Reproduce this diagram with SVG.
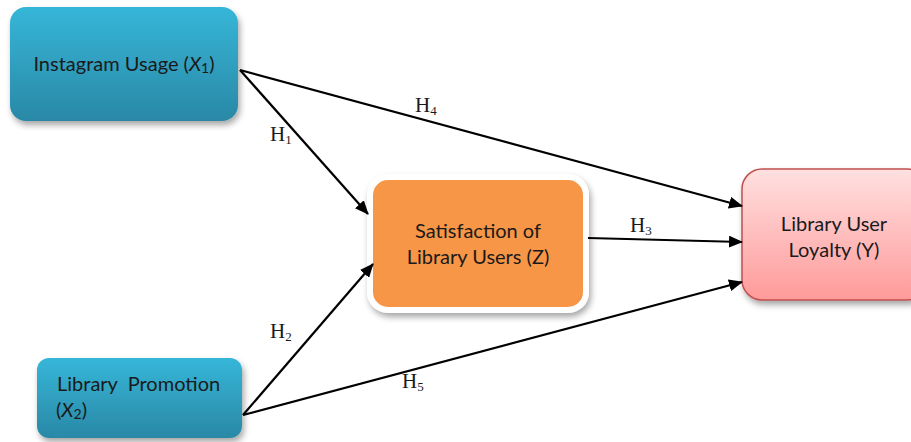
<svg xmlns="http://www.w3.org/2000/svg" width="911" height="442" viewBox="0 0 911 442">
<defs>
<linearGradient id="gBlue" x1="0" y1="0" x2="0" y2="1">
<stop offset="0" stop-color="#36b6d8"/>
<stop offset="1" stop-color="#2a88a6"/>
</linearGradient>
<linearGradient id="gPink" x1="0" y1="0" x2="0" y2="1">
<stop offset="0" stop-color="#ffe0e0"/>
<stop offset="1" stop-color="#ff9a9a"/>
</linearGradient>
<filter id="sh" x="-20%" y="-20%" width="140%" height="150%">
<feDropShadow dx="2" dy="4" stdDeviation="3" flood-color="#000" flood-opacity="0.35"/>
</filter>
<marker id="ah" markerWidth="14" markerHeight="12" refX="13" refY="6" orient="auto" markerUnits="userSpaceOnUse">
<path d="M0,0 L14,6 L0,12 Z" fill="#000"/>
</marker>
<style>
.lbl{font-family:Lato,"Open Sans","Liberation Sans",sans-serif;font-size:20px;fill:#1a1a1a}
.h{font-family:"Liberation Serif","DejaVu Serif",serif;font-size:21px;fill:#1a1a1a}
.sub{font-size:13px}
.c{stroke:#000;stroke-width:2.2;fill:none;marker-end:url(#ah)}
</style>
</defs>
<g id="x1">
<rect x="10" y="7" width="228" height="114" rx="16" fill="url(#gBlue)" filter="url(#sh)"/>
<text class="lbl" x="124" y="71" text-anchor="middle">Instagram Usage (<tspan font-style="italic">X</tspan><tspan font-size="14" dy="2">1</tspan><tspan dy="-2">)</tspan></text>
</g>
<g id="x2">
<rect x="37" y="358" width="205" height="80" rx="12" fill="url(#gBlue)" filter="url(#sh)"/>
<text class="lbl" x="57" y="391" xml:space="preserve">Library  Promotion</text>
<text class="lbl" x="56" y="417">(<tspan font-style="italic">X</tspan><tspan font-size="14" dy="2">2</tspan><tspan dy="-2">)</tspan></text>
</g>
<g id="z">
<rect x="370" y="177" width="216" height="133" rx="18" fill="#f79646" stroke="#fff" stroke-width="6" filter="url(#sh)"/>
<text class="lbl" x="478" y="238" text-anchor="middle">Satisfaction of</text>
<text class="lbl" x="478" y="264" text-anchor="middle">Library Users (Z)</text>
</g>
<g id="y">
<rect x="742" y="169" width="185" height="131" rx="20" fill="url(#gPink)" stroke="#c0504d" stroke-width="1.5" filter="url(#sh)"/>
<text class="lbl" x="834" y="231" text-anchor="middle">Library User</text>
<text class="lbl" x="834" y="257" text-anchor="middle">Loyalty (Y)</text>
</g>
<g id="connectors">
<line class="c" x1="240" y1="70" x2="368" y2="214"/>
<line class="c" x1="240" y1="70" x2="742" y2="206"/>
<line class="c" x1="243" y1="415" x2="373" y2="264"/>
<line class="c" x1="243" y1="415" x2="742" y2="282"/>
<line class="c" x1="588" y1="238" x2="742" y2="242"/>
<text class="h" x="270" y="141">H<tspan class="sub" dy="3">1</tspan></text>
<text class="h" x="415" y="112">H<tspan class="sub" dy="3">4</tspan></text>
<text class="h" x="270" y="338">H<tspan class="sub" dy="3">2</tspan></text>
<text class="h" x="402" y="388">H<tspan class="sub" dy="3">5</tspan></text>
<text class="h" x="630" y="232">H<tspan class="sub" dy="3">3</tspan></text>
</g>
</svg>
